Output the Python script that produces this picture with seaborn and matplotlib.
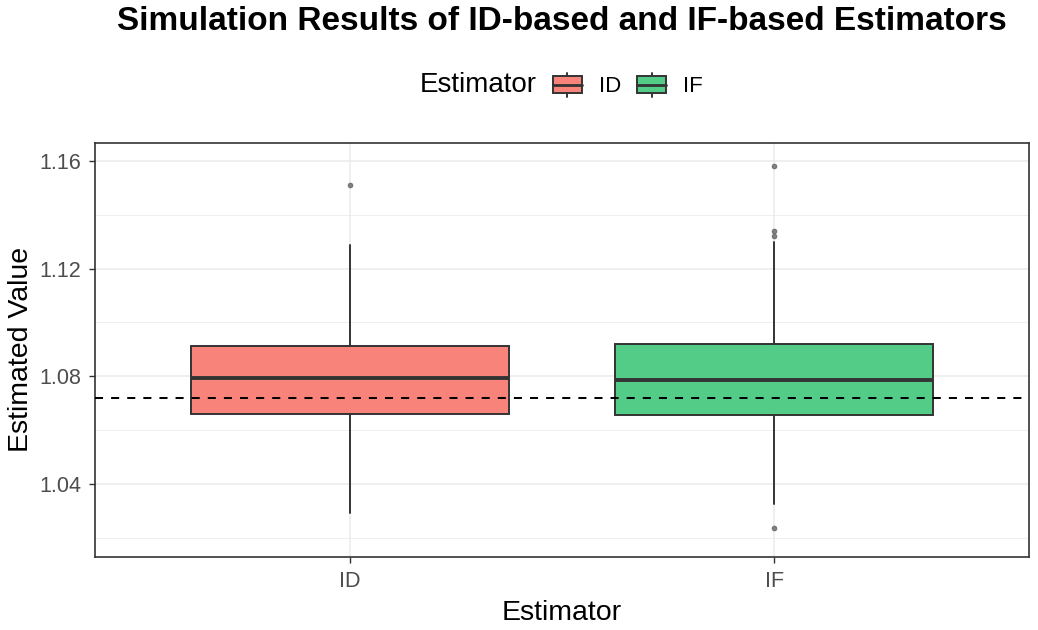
import matplotlib
matplotlib.use("Agg")
import matplotlib.pyplot as plt
import seaborn as sns
from matplotlib.legend_handler import HandlerBase
from matplotlib.patches import Rectangle
from matplotlib.lines import Line2D

# ---- data ----
estimators = ["ID", "IF"]
q1 = [1.0660, 1.0657]
medians = [1.0793, 1.0787]
q3 = [1.0912, 1.0921]
whisker_low = [1.0293, 1.0324]
whisker_high = [1.1288, 1.1298]
outliers = [[1.1510], [1.1580, 1.1339, 1.1320, 1.0235]]
true_value = 1.0720
y_ticks = [1.04, 1.08, 1.12, 1.16]
y_minor = [1.02, 1.06, 1.10, 1.14]
colors = ["#F8837A", "#52CC86"]

sns.set_theme(style="white")
plt.rcParams["font.family"] = ["Liberation Sans", "DejaVu Sans"]
plt.rcParams["text.color"] = "black"
plt.rcParams["axes.labelcolor"] = "black"

W, H = 1038, 630
fig = plt.figure(figsize=(W / 100, H / 100), dpi=100)
ax = fig.add_axes([95 / W, 1 - 556.7 / H, (1029 - 95) / W, (556.7 - 142.7) / H])

edge = "#333333"
# grid
for y in y_minor:
    ax.axhline(y, color="#EBEBEB", lw=0.55, zorder=0)
for y in y_ticks:
    ax.axhline(y, color="#EBEBEB", lw=1.1, zorder=0)
positions = [1, 2]
for p in positions:
    ax.axvline(p, color="#EBEBEB", lw=1.1, zorder=0)

stats = []
for i, name in enumerate(estimators):
    stats.append(dict(label=name, q1=q1[i], med=medians[i], q3=q3[i],
                      whislo=whisker_low[i], whishi=whisker_high[i],
                      fliers=outliers[i]))
bp = ax.bxp(stats, positions=positions, widths=0.75, patch_artist=True,
            showcaps=False,
            boxprops=dict(edgecolor=edge, linewidth=1.4),
            medianprops=dict(color=edge, linewidth=2.8, solid_capstyle="butt"),
            whiskerprops=dict(color=edge, linewidth=1.4),
            flierprops=dict(marker="o", markersize=3.4, markerfacecolor="#7F7F7F",
                            markeredgecolor="#6A6A6A", markeredgewidth=0.6, linestyle="none"),
            zorder=2)
for patch, c in zip(bp["boxes"], colors):
    patch.set_facecolor(c)

ax.axhline(true_value, color="black", lw=1.45, linestyle=(0, (4.0, 4.0)), zorder=3)

ax.set_xlim(0.4, 2.6)
ax.set_ylim(1.0129, 1.1668)
ax.set_yticks(y_ticks)
ax.set_yticklabels([f"{v:.2f}" for v in y_ticks])
ax.set_xticks(positions)
ax.set_xticklabels(estimators)
ax.tick_params(axis="both", which="major", length=4, width=1.0, color=edge,
               labelsize=15.5, labelcolor="#4D4D4D", direction="out",
               bottom=True, left=True)
ax.tick_params(axis="x", pad=6)
ax.tick_params(axis="y", pad=6)
for s in ax.spines.values():
    s.set_color(edge)
    s.set_linewidth(1.2)
ax.set_xlabel("Estimator", fontsize=20.5, color="black", labelpad=6)
ax.set_ylabel("Estimated Value", fontsize=20.5, color="black", labelpad=4)

# title
fig.text((95 + 1029) / 2 / W, 1 - 21 / H, "Simulation Results of ID-based and IF-based Estimators",
         ha="center", va="center", fontsize=24, fontweight="bold", color="black")


# legend with box keys
class BoxKey(HandlerBase):
    def create_artists(self, legend, orig_handle, xdescent, ydescent, width, height, fontsize, trans):
        fc = orig_handle.get_facecolor()
        bh = height * 0.70
        y0 = -ydescent + (height - bh) / 2
        rect = Rectangle((-xdescent, y0), width, bh, facecolor=fc, edgecolor=edge,
                         linewidth=1.4, transform=trans)
        cx = -xdescent + width / 2
        med = Line2D([-xdescent, -xdescent + width], [y0 + bh / 2] * 2, color=edge,
                     lw=2.0, transform=trans)
        top = Line2D([cx, cx], [y0 + bh, -ydescent + height], color=edge, lw=1.4, transform=trans)
        bot = Line2D([cx, cx], [-ydescent, y0], color=edge, lw=1.4, transform=trans)
        return [rect, med, top, bot]


handles = [Rectangle((0, 0), 1, 1, facecolor=c) for c in colors]
fig.text(420 / W, 1 - 85 / H, "Estimator", ha="left", va="center", fontsize=20)
leg = fig.legend(handles, estimators, loc="center left", bbox_to_anchor=(553 / W, 1 - 85 / H),
                 ncol=2, frameon=False, fontsize=16, handler_map={Rectangle: BoxKey()},
                 handlelength=1.3, handleheight=1.3, handletextpad=0.75, columnspacing=0.75,
                 borderpad=0, borderaxespad=0)

fig.savefig("out.png", dpi=100, facecolor="white")
